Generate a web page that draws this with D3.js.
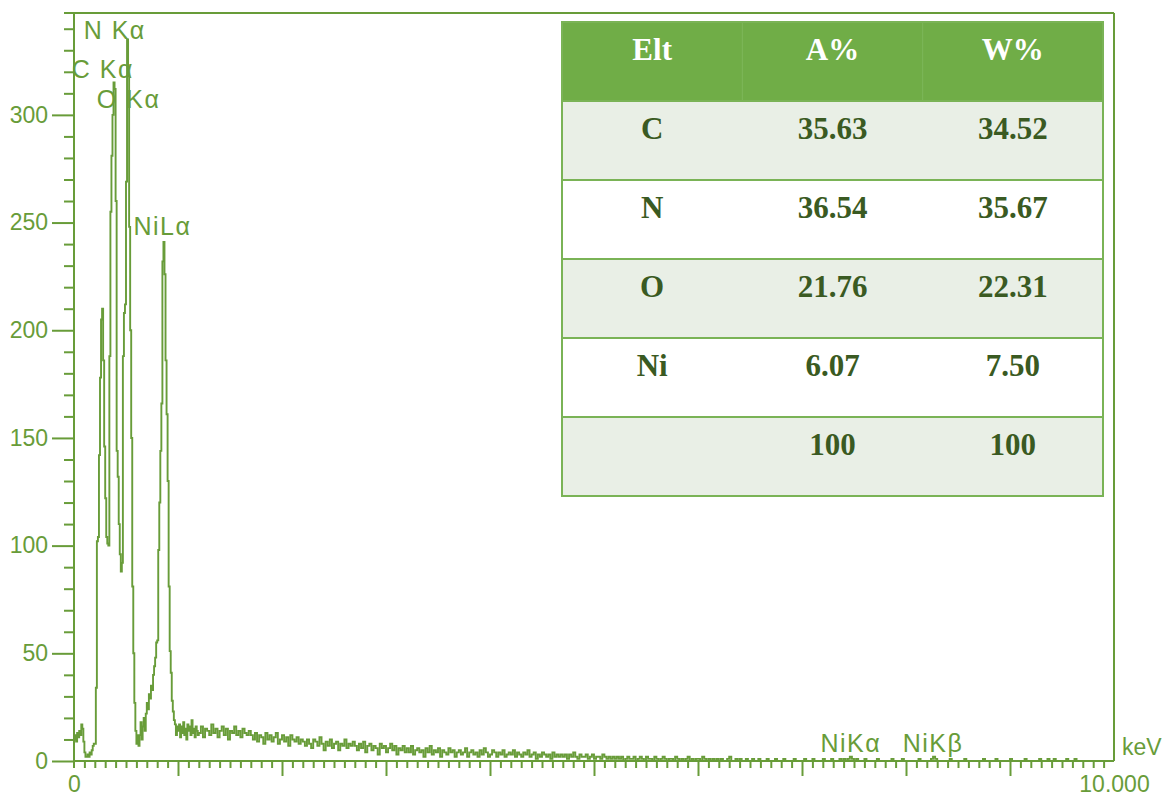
<!DOCTYPE html>
<html>
<head>
<meta charset="utf-8">
<script src="https://cdn.jsdelivr.net/npm/d3@7"></script>
<style>
  body { margin: 0; background: #fff; }
  svg { display: block; }
  .axis text { font-family: "Liberation Sans", Arial, sans-serif; font-size: 23px; fill: #689c39; }
  .axis line { stroke: #689c39; stroke-width: 2; }
  .axis path { display: none; }
</style>
</head>
<body>
<div class="chart"></div>
<script>
// counts per 0.01 keV channel, 0.00 .. 1.19 keV
const peakCounts = [
  10, 12, 9, 13, 11, 14, 12, 17, 15, 9,
  4, 2, 2, 3, 2, 4, 3, 5, 7, 8,
  8, 34, 102, 104, 142, 178, 205, 210, 186, 146,
  122, 104, 101, 100, 188, 255, 281, 300, 315, 312,
  260, 144, 132, 110, 96, 88, 92, 188, 208, 212,
  269, 335, 318, 248, 200, 150, 81, 50, 27, 14,
  8, 12, 7, 12, 18, 10, 16, 20, 14, 22,
  27, 24, 31, 29, 35, 33, 40, 44, 48, 55,
  56, 98, 120, 144, 166, 232, 241, 226, 186, 161,
  130, 81, 51, 41, 28, 23, 19, 17, 12, 16,
  14, 17, 11, 16, 13, 18, 12, 15, 10, 17,
  14, 16, 12, 19, 13, 15, 11, 16, 14, 12
];

// counts per 0.02 keV, 1.20 .. 10.00 keV
const tailCounts = [
  13, 16, 11, 15, 14, 12, 17, 13, 15, 11, 14, 16, 12, 15, 10, 14, 13, 16, 12, 14, 11, 15, 13, 12, 14,
  12, 10, 13, 9, 12, 11, 8, 13, 10, 12, 9, 11, 13, 8, 10, 12, 9, 11, 7, 12, 10, 9, 11, 8, 10,
  9, 7, 10, 8, 6, 10, 9, 7, 11, 8, 5, 9, 7, 10, 6, 8, 9, 5, 8, 7, 10, 6, 8, 7, 9,
  7, 5, 8, 6, 9, 4, 7, 8, 5, 7, 6, 3, 8, 6, 7, 4, 6, 8, 5, 7, 3, 6, 5, 7, 4,
  6, 4, 7, 3, 5, 6, 4, 5, 2, 6, 4, 7, 3, 5, 4, 6, 2, 5, 4, 3, 6, 4, 5, 2, 4,
  5, 3, 4, 6, 2, 4, 5, 3, 4, 2, 5, 3, 6, 4, 2, 3, 5, 4, 2, 4, 3, 5, 2, 3, 4,
  3, 5, 2, 4, 3, 2, 4, 3, 5, 2, 3, 4, 1, 3, 2, 4, 3, 2, 3, 1, 4, 2, 3, 2, 3,
  2, 3, 1, 3, 2, 4, 2, 1, 3, 2, 2, 3, 1, 2, 3, 1, 2, 2, 1, 3, 2, 1, 2, 1, 2,
  1, 2, 1, 2, 0, 1, 2, 1, 1, 2, 0, 1, 2, 1, 0, 2, 1, 1, 0, 2, 1, 0, 1, 2, 1,
  0, 1, 1, 0, 2, 1, 0, 1, 0, 1, 2, 0, 1, 0, 1, 1, 0, 2, 1, 0, 1, 0, 1, 0, 1,
  0, 1, 0, 0, 1, 2, 0, 0, 1, 0, 1, 0, 0, 1, 0, 0, 1, 0, 0, 1, 0, 0, 0, 1, 0,
  0, 0, 1, 0, 0, 0, 1, 0, 0, 0, 0, 1, 0, 0, 0, 0, 1, 0, 0, 0, 1, 0, 0, 0, 0,
  1, 0, 0, 0, 1, 0, 0, 0, 1, 0, 1, 0, 1, 2, 1, 0, 1, 0, 0, 0, 1, 0, 0, 0, 0,
  0, 1, 0, 0, 0, 0, 0, 0, 1, 0, 0, 0, 0, 1, 0, 0, 0, 0, 0, 0, 0, 1, 0, 0, 0,
  0, 0, 1, 2, 1, 0, 0, 0, 0, 0, 0, 1, 0, 0, 0, 0, 0, 0, 1, 0, 0, 0, 0, 0, 0,
  0, 0, 1, 0, 0, 0, 0, 0, 1, 0, 0, 0, 0, 0, 0, 1, 0, 0, 0, 0, 0, 0, 1, 0, 0,
  0, 0, 0, 0, 1, 0, 0, 0, 1, 0, 0, 1, 0, 0, 0, 0, 0, 1, 0, 0, 0, 1, 0, 0, 0,
  0, 0, 0, 0, 0, 0, 0, 0, 0, 0, 0, 0, 0, 0, 0, 0
];

const lineNames = ["C K\u03b1", "N K\u03b1", "O K\u03b1", "NiL\u03b1", "NiK\u03b1", "NiK\u03b2"];
const lineEnergies = [0.277, 0.392, 0.525, 0.851, 7.47, 8.26];
const lineLabelCounts = [317, 335, 303, 244, 4, 4];

const yMajorTicks = [0, 50, 100, 150, 200, 250, 300];
const xMajorTicks = [1, 2, 3, 4, 5, 6, 7, 8, 9];

const tableHeader = ["Elt", "A%", "W%"];
const tableElements = ["C", "N", "O", "Ni", ""];
const tableAtomic = ["35.63", "36.54", "21.76", "6.07", "100"];
const tableWeight = ["34.52", "35.67", "22.31", "7.50", "100"];

const green = "#689c39";
const W = 1166, H = 797;
const plot = { left: 74, right: 1114, top: 13, bottom: 761 };

const svg = d3.select(".chart").append("svg").attr("width", W).attr("height", H);

const x = d3.scaleLinear().domain([0, 10]).range([plot.left, plot.right]);
const y = d3.scaleLinear().domain([0, 347.3]).range([plot.bottom, plot.top]);

const spectrum = peakCounts.map((c, i) => ({ e: i * 0.01, c }))
  .concat(tailCounts.map((c, i) => ({ e: 1.2 + i * 0.02, c })));

// frame
svg.append("line").attr("x1", 64).attr("x2", plot.right).attr("y1", plot.top).attr("y2", plot.top)
  .attr("stroke", green).attr("stroke-width", 2);
svg.append("line").attr("x1", plot.right).attr("x2", plot.right).attr("y1", plot.top).attr("y2", plot.bottom)
  .attr("stroke", green).attr("stroke-width", 2);
svg.append("line").attr("x1", plot.left).attr("x2", plot.left).attr("y1", plot.top).attr("y2", plot.bottom + 7)
  .attr("stroke", green).attr("stroke-width", 2);
svg.append("line").attr("x1", plot.left).attr("x2", plot.right).attr("y1", plot.bottom).attr("y2", plot.bottom)
  .attr("stroke", green).attr("stroke-width", 2);

// y axis
svg.append("g").attr("class", "axis").attr("transform", `translate(${plot.left},0)`)
  .call(d3.axisLeft(y).tickValues(yMajorTicks).tickSize(22).tickPadding(4));
svg.append("g").attr("class", "axis").attr("transform", `translate(${plot.left},0)`)
  .call(d3.axisLeft(y).tickValues(d3.range(10, 350, 10).filter(v => v % 50 !== 0)).tickSize(10).tickFormat(""));

// x axis
svg.append("g").attr("class", "axis").attr("transform", `translate(0,${plot.bottom})`)
  .call(d3.axisBottom(x).tickValues(xMajorTicks).tickSize(15).tickFormat(""));
svg.append("g").attr("class", "axis").attr("transform", `translate(0,${plot.bottom})`)
  .call(d3.axisBottom(x).tickValues(d3.range(0, 100).filter(v => v % 10 !== 0).map(v => v / 10)).tickSize(7).tickFormat(""));
svg.append("g").attr("class", "axis").attr("transform", `translate(0,${plot.bottom})`)
  .call(d3.axisBottom(x).tickValues([0, 10]).tickSize(0).tickPadding(15)
    .tickFormat(d => d === 0 ? "0" : d3.format(".3f")(d)));

svg.append("text").attr("x", 1122).attr("y", 755)
  .style("font-family", "Liberation Sans, Arial, sans-serif").style("font-size", "23px")
  .attr("fill", green).text("keV");

// spectrum
const line = d3.line().x(d => x(d.e)).y(d => y(d.c)).curve(d3.curveStepAfter);
svg.append("path").datum(spectrum).attr("d", line)
  .attr("fill", "none").attr("stroke", green).attr("stroke-width", 1.9);

// peak labels
svg.selectAll(".peak-label").data(lineNames).enter().append("text")
  .attr("class", "peak-label")
  .attr("x", (d, i) => x(lineEnergies[i]))
  .attr("y", (d, i) => y(lineLabelCounts[i]))
  .attr("text-anchor", "middle")
  .style("font-family", "Liberation Sans, Arial, sans-serif").style("font-size", "25px")
  .style("letter-spacing", "1.5px")
  .attr("fill", green).text(d => d);

// table
const tbl = { left: 562, right: 1103, top: 22, rowH: 79 };
const colW = (tbl.right - tbl.left) / 3;
const rowsCount = tableElements.length + 1;
const tg = svg.append("g");

tg.append("rect").attr("x", tbl.left).attr("y", tbl.top).attr("width", tbl.right - tbl.left)
  .attr("height", tbl.rowH * rowsCount).attr("fill", "#fff");
tg.append("rect").attr("x", tbl.left).attr("y", tbl.top).attr("width", tbl.right - tbl.left)
  .attr("height", tbl.rowH).attr("fill", "#70ad47");
tableElements.forEach((el, i) => {
  tg.append("rect").attr("x", tbl.left).attr("y", tbl.top + tbl.rowH * (i + 1))
    .attr("width", tbl.right - tbl.left).attr("height", tbl.rowH)
    .attr("fill", i % 2 === 0 ? "#e9efe6" : "#ffffff");
});
[1, 2].forEach(k => {
  tg.append("line").attr("x1", tbl.left + colW * k).attr("x2", tbl.left + colW * k)
    .attr("y1", tbl.top).attr("y2", tbl.top + tbl.rowH).attr("stroke", "#7db75a").attr("stroke-width", 1);
});
d3.range(1, rowsCount).forEach(k => {
  tg.append("line").attr("x1", tbl.left).attr("x2", tbl.right)
    .attr("y1", tbl.top + tbl.rowH * k).attr("y2", tbl.top + tbl.rowH * k)
    .attr("stroke", "#7ab356").attr("stroke-width", 2);
});
tg.append("rect").attr("x", tbl.left).attr("y", tbl.top).attr("width", tbl.right - tbl.left)
  .attr("height", tbl.rowH * rowsCount).attr("fill", "none").attr("stroke", "#7ab356").attr("stroke-width", 2);

const cellText = (txt, col, row, color) => tg.append("text")
  .attr("x", tbl.left + colW * (col + 0.5))
  .attr("y", tbl.top + tbl.rowH * row + 38)
  .attr("text-anchor", "middle")
  .style("font-family", "Liberation Serif, Times New Roman, serif")
  .style("font-size", "31px").style("font-weight", "bold")
  .attr("fill", color).text(txt);

tableHeader.forEach((h, c) => cellText(h, c, 0, "#ffffff"));
tableElements.forEach((el, i) => {
  cellText(el, 0, i + 1, "#3a5a22");
  cellText(tableAtomic[i], 1, i + 1, "#3a5a22");
  cellText(tableWeight[i], 2, i + 1, "#3a5a22");
});
</script>
</body>
</html>
